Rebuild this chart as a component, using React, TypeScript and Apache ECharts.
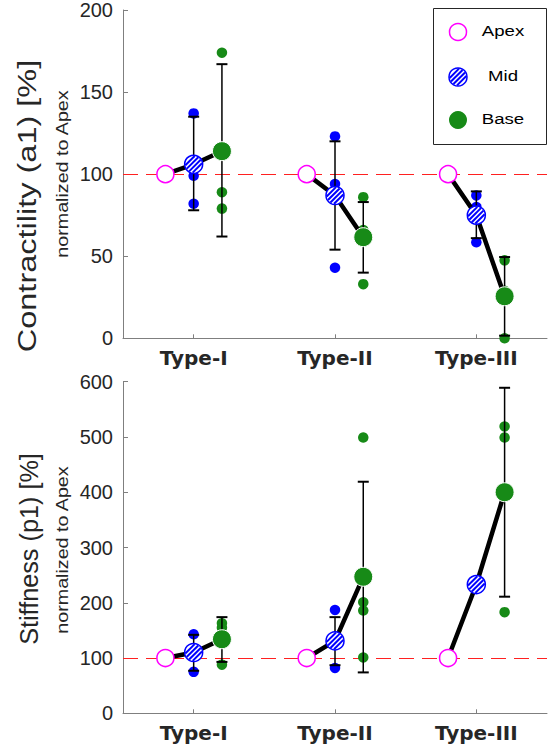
import React, { useEffect, useRef } from "react";
import * as echarts from "echarts";

// ---------- data ----------
const types = ["Type-I", "Type-II", "Type-III"];
const typePos = [1, 2, 3];
const offApex = -0.2;
const offMid = 0;
const offBase = 0.2;

// Contractility (a1), % of Apex
const aApex = [100, 100, 100];
const aMidMean = [106, 87, 75];
const aMidLow = [78, 54, 61];
const aMidHigh = [135, 120, 89.5];
const aMidDots = [[137, 99, 82], [123, 94, 43], [87, 80, 58.5]];
const aBaseMean = [114, 61.6, 25.6];
const aBaseLow = [62, 40, 1.6];
const aBaseHigh = [167, 83, 49.5];
const aBaseDots = [[174, 89, 79], [86, 66, 33], [47.5, 29, 0]];

// Stiffness (p1), % of Apex
const pApex = [100, 100, 100];
const pMidMean = [110, 131, 233];
const pMidLow = [77, 87, null];
const pMidHigh = [142, 174, null];
const pMidDots = [[143, 112, 75], [187, 124, 82], []];
const pBaseMean = [134, 247, 400];
const pBaseLow = [93, 74, 211];
const pBaseHigh = [174, 419, 589];
const pBaseDots = [[163, 155, 88], [499, 201, 186, 101], [519, 499, 183]];

const yTicksA = { min: 0, max: 200, interval: 50 };
const yTicksP = { min: 0, max: 600, interval: 100 };
const refLine = 100;

// ---------- style ----------
const BLUE = "#0000ff";
const GREEN = "#178a17";
const MAGENTA = "#ff00ff";
const AXIS = "#7f7f7f";
const TXT = "#262626";

function hatchChildren(cx: number, cy: number, r: number, z?: number) {
  const children: any[] = [];
  const zz = z === undefined ? {} : { z };
  children.push({ type: "circle", ...zz, shape: { cx, cy, r }, style: { fill: "#fff" } });
  const s = Math.SQRT1_2;
  const rr = r - 0.6;
  [-5.2, -1.75, 1.75, 5.2].forEach((d) => {
    const h = Math.sqrt(Math.max(rr * rr - d * d, 0));
    const mx = cx + d * s;
    const my = cy + d * s;
    children.push({
      type: "line",
      ...zz,
      shape: { x1: mx - h * s, y1: my + h * s, x2: mx + h * s, y2: my - h * s },
      style: { stroke: BLUE, lineWidth: 2 },
    });
  });
  children.push({
    type: "circle",
    ...zz,
    shape: { cx, cy, r },
    style: { fill: "none", stroke: BLUE, lineWidth: 1.5 },
  });
  return children;
}

function buildSeries(
  g: number,
  apex: number[],
  midMean: number[],
  midLow: (number | null)[],
  midHigh: (number | null)[],
  midDots: number[][],
  baseMean: number[],
  baseLow: number[],
  baseHigh: number[],
  baseDots: number[][]
) {
  const ax = { xAxisIndex: g, yAxisIndex: g };
  const series: any[] = [];

  // reference line
  series.push({
    ...ax,
    type: "line",
    data: [],
    silent: true,
    markLine: {
      silent: true,
      z: 1,
      symbol: "none",
      label: { show: false },
      lineStyle: { color: "#ff2020", width: 1, type: [15, 8] },
      data: [{ yAxis: refLine }],
    },
  });

  // individual dots
  const midPts: number[][] = [];
  midDots.forEach((arr, i) => arr.forEach((v) => midPts.push([typePos[i] + offMid, v])));
  const basePts: number[][] = [];
  baseDots.forEach((arr, i) => arr.forEach((v) => basePts.push([typePos[i] + offBase, v])));
  series.push({
    ...ax,
    type: "scatter",
    z: 2,
    symbol: "circle",
    symbolSize: 10.5,
    itemStyle: { color: BLUE, opacity: 1 },
    data: midPts,
  });
  series.push({
    ...ax,
    type: "scatter",
    z: 2,
    symbol: "circle",
    symbolSize: 10.5,
    itemStyle: { color: GREEN, opacity: 1 },
    data: basePts,
  });

  // error bars
  const errData: number[][] = [];
  typePos.forEach((t, i) => {
    if (midLow[i] != null && midHigh[i] != null)
      errData.push([t + offMid, midLow[i] as number, midHigh[i] as number]);
    errData.push([t + offBase, baseLow[i], baseHigh[i]]);
  });
  series.push({
    ...ax,
    type: "custom",
    z: 3,
    clip: false,
    encode: { x: 0, y: [1, 2] },
    data: errData,
    renderItem: (params: any, api: any) => {
      const x = api.value(0);
      const top = api.coord([x, api.value(2)]);
      const bot = api.coord([x, api.value(1)]);
      const w = 5.5;
      return {
        type: "group",
        children: [
          { type: "line", shape: { x1: top[0], y1: top[1], x2: bot[0], y2: bot[1] }, style: { stroke: "#000", lineWidth: 1.5 } },
          { type: "line", shape: { x1: top[0] - w, y1: top[1], x2: top[0] + w, y2: top[1] }, style: { stroke: "#000", lineWidth: 2 } },
          { type: "line", shape: { x1: bot[0] - w, y1: bot[1], x2: bot[0] + w, y2: bot[1] }, style: { stroke: "#000", lineWidth: 2 } },
        ],
      };
    },
  });

  // connecting lines
  typePos.forEach((t, i) => {
    series.push({
      ...ax,
      type: "line",
      z: 4,
      symbol: "none",
      showSymbol: false,
      lineStyle: { color: "#000", width: 4.5 },
      data: [
        [t + offApex, apex[i]],
        [t + offMid, midMean[i]],
        [t + offBase, baseMean[i]],
      ],
    });
  });

  // apex markers
  series.push({
    ...ax,
    type: "scatter",
    z: 5,
    symbol: "circle",
    symbolSize: 17,
    itemStyle: { color: "#fff", borderColor: MAGENTA, borderWidth: 1.5, opacity: 1 },
    data: apex.map((v, i) => [typePos[i] + offApex, v]),
  });
  // base mean markers
  series.push({
    ...ax,
    type: "scatter",
    z: 5,
    symbol: "circle",
    symbolSize: 19,
    itemStyle: { color: GREEN, borderColor: "#fff", borderWidth: 1, opacity: 1 },
    data: baseMean.map((v, i) => [typePos[i] + offBase, v]),
  });
  // mid mean markers (hatched)
  series.push({
    ...ax,
    type: "custom",
    z: 6,
    clip: false,
    encode: { x: 0, y: 1 },
    data: midMean.map((v, i) => [typePos[i] + offMid, v]),
    renderItem: (params: any, api: any) => {
      const p = api.coord([api.value(0), api.value(1)]);
      return { type: "group", children: hatchChildren(p[0], p[1], 9) };
    },
  });
  return series;
}

function xAxisFor(g: number) {
  return {
    type: "value",
    gridIndex: g,
    min: 0.5,
    max: 3.5,
    splitLine: { show: false },
    axisLine: { show: true, onZero: false, lineStyle: { color: AXIS, width: 1 } },
    axisTick: { show: true, inside: true, length: 4, customValues: typePos, lineStyle: { color: AXIS } },
    axisLabel: {
      show: true,
      customValues: typePos,
      formatter: (v: number) => types[Math.round(v) - 1] ?? "",
      fontFamily: "DejaVu Sans",
      fontWeight: "bold",
      fontSize: 20,
      color: TXT,
      margin: 10,
    },
  };
}

function yAxisFor(g: number, t: { min: number; max: number; interval: number }) {
  return {
    type: "value",
    gridIndex: g,
    min: t.min,
    max: t.max,
    interval: t.interval,
    splitLine: { show: false },
    axisLine: { show: true, onZero: false, lineStyle: { color: AXIS, width: 1 } },
    axisTick: { show: true, inside: true, length: 5, lineStyle: { color: AXIS } },
    axisLabel: { fontFamily: "Liberation Sans", fontSize: 20, color: TXT, margin: 10 },
  };
}

function vText(x: number, y: number, text: string, size: number, scale: number) {
  return {
    type: "text",
    x,
    y,
    rotation: Math.PI / 2,
    scaleX: scale,
    silent: true,
    style: {
      text,
      fontFamily: "Liberation Sans",
      fontSize: size,
      fill: TXT,
      align: "center",
      verticalAlign: "middle",
    },
  };
}

function legendText(x: number, y: number, text: string) {
  return {
    type: "text",
    x,
    y,
    z: 102,
    scaleX: 1.2,
    silent: true,
    style: {
      text,
      fontFamily: "Liberation Sans",
      fontSize: 15.5,
      fill: "#000",
      align: "center",
      verticalAlign: "middle",
    },
  };
}

export default function App() {
  const ref = useRef<HTMLDivElement>(null);
  useEffect(() => {
    document.body.style.margin = "0";
    if (!ref.current) return;
    const chart = echarts.init(ref.current, undefined, { renderer: "svg" });
    const option: any = {
      animation: false,
      backgroundColor: "#fff",
      grid: [
        { left: 123, right: 3, top: 8, height: 330.3 },
        { left: 123, right: 3, top: 381.7, height: 331.6 },
      ],
      xAxis: [xAxisFor(0), xAxisFor(1)],
      yAxis: [yAxisFor(0, yTicksA), yAxisFor(1, yTicksP)],
      series: [
        ...buildSeries(0, aApex, aMidMean, aMidLow, aMidHigh, aMidDots, aBaseMean, aBaseLow, aBaseHigh, aBaseDots),
        ...buildSeries(1, pApex, pMidMean, pMidLow, pMidHigh, pMidDots, pBaseMean, pBaseLow, pBaseHigh, pBaseDots),
      ],
      graphic: [
        vText(27.5, 206, "Contractility (a1) [%]", 25, 1.3),
        vText(62.6, 174, "normalized to Apex", 16, 1.23),
        vText(29.3, 549, "Stiffness (p1) [%]", 25, 1.01),
        vText(62.6, 550, "normalized to Apex", 16, 1.23),
        {
          type: "rect",
          silent: true,
          z: 100,
          shape: { x: 433.5, y: 8.5, width: 113, height: 136 },
          style: { fill: "#fff", stroke: TXT, lineWidth: 1 },
        },
        {
          type: "circle",
          silent: true,
          z: 101,
          shape: { cx: 458, cy: 32, r: 8.5 },
          style: { fill: "#fff", stroke: MAGENTA, lineWidth: 1.5 },
        },
        ...hatchChildren(458, 77, 9, 101).map((c) => ({ ...c, silent: true })),
        {
          type: "circle",
          silent: true,
          z: 101,
          shape: { cx: 458, cy: 120, r: 9 },
          style: { fill: GREEN },
        },
        legendText(503, 31, "Apex"),
        legendText(503, 76, "Mid"),
        legendText(503, 119.5, "Base"),
      ],
    };
    chart.setOption(option);
    return () => chart.dispose();
  }, []);
  return (
    <div
      ref={ref}
      style={{ position: "absolute", left: 0, top: 0, width: 550, height: 753 }}
    />
  );
}
